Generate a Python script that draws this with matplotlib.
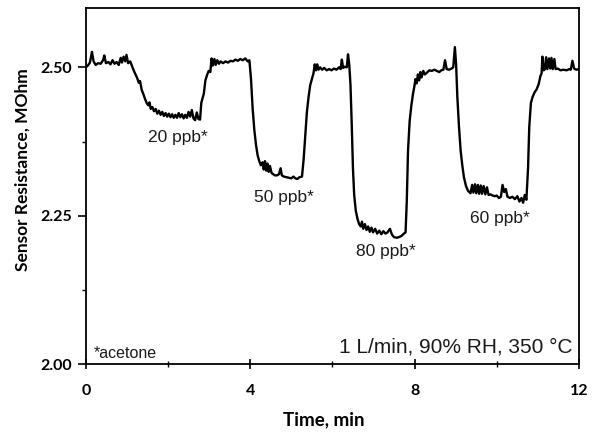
import numpy as np
import matplotlib.pyplot as plt
from matplotlib.ticker import MultipleLocator

# sensor trace (time in min, resistance in MOhm)
time_min = [
    0.00, 0.05, 0.10, 0.15, 0.19, 0.24, 0.30, 0.36, 0.42, 0.45, 0.49, 0.55,
    0.60, 0.65, 0.70, 0.75, 0.80, 0.85, 0.88, 0.92, 0.96, 0.99, 1.03, 1.08,
    1.12, 1.17, 1.21, 1.25, 1.29, 1.32, 1.36, 1.40, 1.44, 1.48, 1.52, 1.55,
    1.58, 1.62, 1.66, 1.70, 1.74, 1.78, 1.82, 1.86, 1.90, 1.94, 1.98, 2.02,
    2.06, 2.10, 2.14, 2.18, 2.22, 2.26, 2.30, 2.34, 2.38, 2.42, 2.46, 2.50,
    2.54, 2.58, 2.62, 2.66, 2.70, 2.74, 2.78, 2.81, 2.84, 2.87, 2.91, 2.95,
    2.99, 3.03, 3.06, 3.09, 3.13, 3.16, 3.20, 3.24, 3.28, 3.34, 3.40, 3.46,
    3.52, 3.58, 3.64, 3.70, 3.76, 3.82, 3.88, 3.94, 3.98, 4.02, 4.06, 4.10,
    4.14, 4.18, 4.22, 4.26, 4.30, 4.33, 4.36, 4.39, 4.42, 4.45, 4.48, 4.52,
    4.56, 4.60, 4.65, 4.70, 4.74, 4.77, 4.82, 4.88, 4.94, 5.00, 5.05, 5.10,
    5.15, 5.20, 5.26, 5.30, 5.34, 5.38, 5.42, 5.46, 5.50, 5.54, 5.57, 5.60,
    5.63, 5.66, 5.70, 5.75, 5.80, 5.86, 5.92, 5.98, 6.04, 6.10, 6.16, 6.20,
    6.23, 6.26, 6.30, 6.35, 6.38, 6.41, 6.44, 6.47, 6.50, 6.53, 6.57, 6.61,
    6.65, 6.69, 6.72, 6.75, 6.79, 6.83, 6.87, 6.91, 6.95, 6.99, 7.04, 7.09,
    7.14, 7.19, 7.24, 7.29, 7.34, 7.40, 7.45, 7.50, 7.56, 7.62, 7.68, 7.74,
    7.78, 7.81, 7.84, 7.88, 7.92, 7.96, 8.00, 8.02, 8.05, 8.08, 8.11, 8.14,
    8.17, 8.21, 8.25, 8.30, 8.36, 8.42, 8.48, 8.54, 8.60, 8.65, 8.70, 8.74,
    8.78, 8.84, 8.90, 8.94, 8.98, 9.01, 9.04, 9.08, 9.12, 9.16, 9.20, 9.25,
    9.30, 9.36, 9.40, 9.43, 9.47, 9.50, 9.54, 9.57, 9.61, 9.64, 9.68, 9.72,
    9.76, 9.80, 9.85, 9.90, 9.95, 10.00, 10.05, 10.10, 10.14, 10.18, 10.22,
    10.26, 10.32, 10.38, 10.44, 10.50, 10.55, 10.60, 10.64, 10.68, 10.72,
    10.76, 10.79, 10.83, 10.87, 10.92, 10.97, 11.02, 11.06, 11.09, 11.11,
    11.14, 11.17, 11.20, 11.23, 11.27, 11.30, 11.33, 11.36, 11.40, 11.43,
    11.48, 11.55, 11.62, 11.70, 11.76, 11.80, 11.84, 11.88, 11.93, 12.00,
]
resistance = [
    2.500, 2.503, 2.508, 2.526, 2.510, 2.504, 2.507, 2.506, 2.512, 2.520, 2.507, 2.509,
    2.505, 2.512, 2.506, 2.509, 2.504, 2.516, 2.508, 2.518, 2.510, 2.521, 2.507, 2.510,
    2.503, 2.494, 2.488, 2.482, 2.474, 2.477, 2.462, 2.455, 2.447, 2.440, 2.436, 2.441,
    2.430, 2.433, 2.426, 2.430, 2.422, 2.427, 2.420, 2.425, 2.418, 2.423, 2.417, 2.422,
    2.416, 2.421, 2.415, 2.420, 2.415, 2.423, 2.416, 2.421, 2.414, 2.420, 2.415, 2.425,
    2.417, 2.428, 2.414, 2.411, 2.424, 2.413, 2.412, 2.440, 2.448, 2.455, 2.478, 2.487,
    2.494, 2.492, 2.515, 2.503, 2.514, 2.504, 2.512, 2.506, 2.510, 2.507, 2.510, 2.508,
    2.511, 2.510, 2.513, 2.511, 2.514, 2.512, 2.515, 2.510, 2.512, 2.480, 2.430, 2.395,
    2.370, 2.352, 2.342, 2.335, 2.340, 2.328, 2.342, 2.326, 2.338, 2.324, 2.334, 2.322,
    2.320, 2.318, 2.318, 2.320, 2.330, 2.318, 2.316, 2.315, 2.314, 2.313, 2.316, 2.313,
    2.312, 2.315, 2.316, 2.345, 2.385, 2.425, 2.450, 2.470, 2.480, 2.490, 2.505, 2.495,
    2.505, 2.496, 2.500, 2.496, 2.499, 2.495, 2.497, 2.495, 2.498, 2.496, 2.500, 2.497,
    2.513, 2.499, 2.501, 2.500, 2.522, 2.505, 2.470, 2.405, 2.330, 2.285, 2.258, 2.245,
    2.236, 2.232, 2.240, 2.228, 2.236, 2.226, 2.232, 2.223, 2.230, 2.222, 2.228, 2.220,
    2.225, 2.219, 2.224, 2.220, 2.222, 2.228, 2.218, 2.214, 2.213, 2.214, 2.216, 2.220,
    2.222, 2.275, 2.360, 2.410, 2.435, 2.455, 2.470, 2.480, 2.473, 2.488, 2.478, 2.492,
    2.483, 2.494, 2.488, 2.491, 2.495, 2.494, 2.496, 2.494, 2.492, 2.495, 2.496, 2.512,
    2.497, 2.496, 2.498, 2.500, 2.534, 2.505, 2.450, 2.400, 2.360, 2.335, 2.315, 2.300,
    2.292, 2.288, 2.302, 2.289, 2.303, 2.288, 2.302, 2.287, 2.301, 2.287, 2.300, 2.286,
    2.298, 2.285, 2.286, 2.284, 2.283, 2.284, 2.280, 2.282, 2.302, 2.290, 2.295,
    2.282, 2.280, 2.282, 2.278, 2.283, 2.274, 2.280, 2.272, 2.285, 2.277,
    2.330, 2.400, 2.440, 2.450, 2.458, 2.463, 2.472, 2.485, 2.490, 2.518,
    2.495, 2.497, 2.517, 2.497, 2.515, 2.498, 2.516, 2.497, 2.514, 2.497,
    2.498, 2.495, 2.496, 2.495, 2.497, 2.496, 2.511, 2.498, 2.496, 2.497,
]

# concentration labels and where they sit
labels = ['20 ppb*', '50 ppb*', '80 ppb*', '60 ppb*']
label_t = [2.23, 4.82, 7.31, 10.08]
label_r = [2.382, 2.281, 2.189, 2.246]

fig = plt.figure(figsize=(6, 4.42), dpi=100)
ax = fig.add_axes([0.143, 0.176, 0.822, 0.806])

ax.plot(time_min, resistance, color='black', lw=1.7)

for txt, t, r in zip(labels, label_t, label_r):
    ax.text(t, r, txt, ha='center', va='center', fontsize=12.5,
            family='Liberation Sans', color='#1a1a1a')

ax.text(0.19, 2.018, '*acetone', ha='left', va='center', fontsize=11.5,
        family='Liberation Sans', color='#1a1a1a')
ax.text(11.83, 2.029, '1 L/min, 90% RH, 350 °C', ha='right', va='center',
        fontsize=15, family='Liberation Sans', color='#1a1a1a')

ax.set_xlim(0, 12)
ax.set_ylim(2.0, 2.6)
ax.xaxis.set_major_locator(MultipleLocator(4))
ax.xaxis.set_minor_locator(MultipleLocator(2))
ax.set_yticks([2.0, 2.25, 2.5])
ax.yaxis.set_minor_locator(MultipleLocator(0.125))
ax.yaxis.set_major_formatter(plt.FormatStrFormatter('%.2f'))

ax.tick_params(axis='x', which='major', direction='inout', length=7, width=1.2, pad=11)
ax.tick_params(axis='x', which='minor', direction='inout', length=5, width=1)
ax.tick_params(axis='y', which='major', direction='out', length=6, width=1.2, pad=4)
ax.tick_params(axis='y', which='minor', direction='out', length=3, width=1)

for lab in ax.get_xticklabels() + ax.get_yticklabels():
    lab.set_fontfamily('Lato')
    lab.set_fontweight('bold')
    lab.set_fontsize(11.5)

for sp in ax.spines.values():
    sp.set_linewidth(1.3)

ax.set_xlabel('Time, min', fontsize=13.5, fontweight='bold', family='Lato')
ax.set_ylabel('Sensor Resistance, MOhm', fontsize=12.5, fontweight='bold', family='Lato')
# label positions as measured on the reference (axes fraction)
ax.xaxis.set_label_coords(0.483, -0.132)
ax.yaxis.set_label_coords(-0.112, 0.545)

fig.savefig('out.png', dpi=100)
